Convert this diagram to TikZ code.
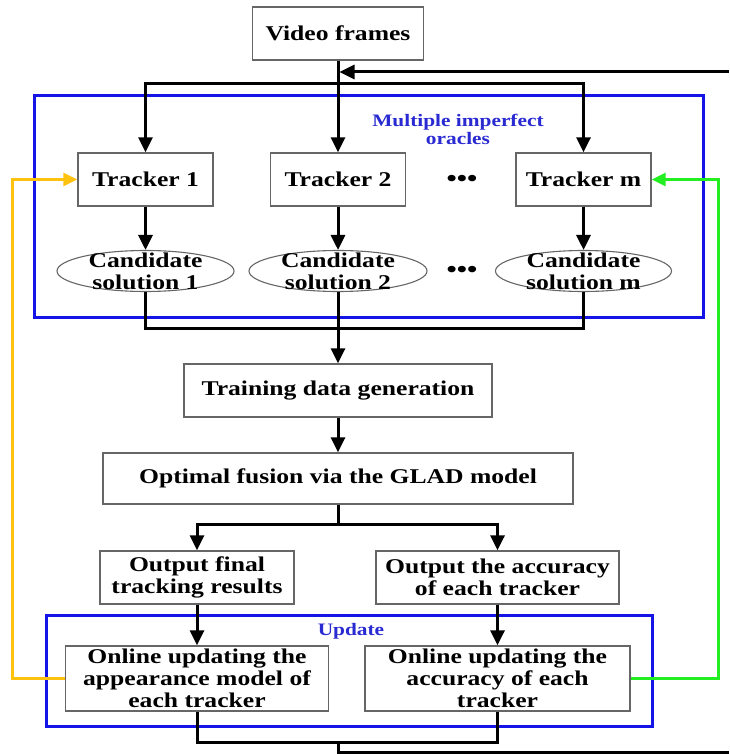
\documentclass[tikz,border=0pt]{standalone}
\usepackage{fontspec}
\setmainfont{Liberation Serif}[FakeStretch=1.22]
\usetikzlibrary{arrows.meta,shapes.geometric}

\definecolor{boxgray}{HTML}{666666}
\definecolor{grpblue}{HTML}{1414E6}
\definecolor{txtblue}{HTML}{2A2AD2}
\definecolor{fborange}{HTML}{FFC20E}
\definecolor{fbgreen}{HTML}{22EE22}

\newcommand{\mainfont}{\fontsize{21}{22}\selectfont\bfseries}
\newcommand{\grpfont}{\fontsize{17.5}{18}\selectfont\bfseries}

\begin{document}
\begin{tikzpicture}[x=1pt,y=-1pt,
  box/.style={draw=boxgray,line width=1.3pt,inner sep=0pt,align=center,font=\mainfont},
  oval/.style={ellipse,draw=boxgray,line width=1.1pt,inner sep=0pt},
  ovaltext/.style={inner sep=0pt,align=center,font=\mainfont},
  grp/.style={draw=grpblue,line width=3pt,inner sep=0pt},
  grplabel/.style={inner sep=0pt,align=center,font=\grpfont,text=txtblue},
  wire/.style={line width=3pt,draw=black},
  flow/.style={wire,-{Triangle[length=15pt,width=14pt]}},
  oflow/.style={line width=2.8pt,draw=fborange,-{Triangle[length=14pt,width=13pt]}},
  gflow/.style={line width=2.8pt,draw=fbgreen,-{Triangle[length=14pt,width=13pt]}},
  dots/.style={inner sep=0pt,font=\fontsize{24}{24}\selectfont\bfseries}]

\useasboundingbox (0,0) rectangle (729,754);

% group frames
\node[grp,minimum width=669,minimum height=221] (oracles) at (368.5,206.5) {};
\node[grp,minimum width=606,minimum height=111] (update) at (349,670.5) {};
\node[grplabel] (oraclestxt) at (458,129) {Multiple imperfect\\oracles};
\node[grplabel] (updatetxt) at (351,631) {Update};

% input
\node[box,minimum width=171,minimum height=53] (vf) at (338,33.5) {Video frames};

% trackers
\node[box,minimum width=135,minimum height=53] (t1) at (145.5,179.5) {Tracker 1};
\node[box,minimum width=135,minimum height=53] (t2) at (338,179.5) {Tracker 2};
\node[box,minimum width=135,minimum height=53] (tm) at (583.5,179.5) {Tracker m};
\node[dots] (dotsa) at (462,181) {•••};

% candidate solutions
\node[oval,minimum width=177,minimum height=41] (e1) at (145.5,271) {};
\node[oval,minimum width=178,minimum height=41] (e2) at (338,271) {};
\node[oval,minimum width=176,minimum height=41] (em) at (583.5,271) {};
\node[ovaltext] (e1t) at (e1) {Candidate\\solution 1};
\node[ovaltext] (e2t) at (e2) {Candidate\\solution 2};
\node[ovaltext] (emt) at (em) {Candidate\\solution m};
\node[dots] (dotsb) at (462,272) {•••};

% fusion chain
\node[box,minimum width=308,minimum height=53] (train) at (338,390.5) {Training data generation};
\node[box,minimum width=470,minimum height=51] (glad) at (338,478.5) {Optimal fusion via the GLAD model};

% outputs
\node[box,minimum width=194,minimum height=53] (out1) at (197,577.5) {Output final\\tracking results};
\node[box,minimum width=243,minimum height=53] (out2) at (497.5,577.5) {Output the accuracy\\of each tracker};

% updates
\node[box,minimum width=263,minimum height=65] (on1) at (197,678.5) {Online updating the\\appearance model of\\each tracker};
\node[box,minimum width=265,minimum height=65] (on2) at (497.5,678.5) {Online updating the\\accuracy of each\\tracker};

% helper points
\coordinate (fbin) at (729,72);
\coordinate (mg) at (338,328);
\coordinate (sp) at (338,524);
\coordinate (bm) at (338,742);
\coordinate (bout) at (729,752);

% frames to trackers
\draw[flow] (vf.south) -- (t2.north);
\draw[flow] (vf.south) ++(0,23) -| (t1.north);
\draw[flow] (vf.south) ++(0,23) -| (tm.north);
\draw[flow,shorten >=1.5pt] (fbin) -- (vf.south |- fbin);

% trackers to candidates
\draw[flow] (t1.south) -- (e1.north);
\draw[flow] (t2.south) -- (e2.north);
\draw[flow] (tm.south) -- (em.north);

% candidates merged into training data
\draw[wire] (e1.south) |- (mg) -| (em.south);
\draw[wire] (e2.south) -- (mg);
\draw[flow] (mg) -- (train.north);
\draw[flow] (train.south) -- (glad.north);

% fusion split
\draw[wire] (glad.south) -- (sp);
\draw[flow] (sp) -| (out1.north);
\draw[flow] (sp) -| (out2.north);

% outputs to updates
\draw[flow] (out1.south) -- (on1.north);
\draw[flow] (out2.south) -- (on2.north);

% loop back
\draw[wire] (on1.south) |- (on2.south |- bm) -- (on2.south);
\draw[wire] (bm) |- (bout);

% feedback to trackers
\draw[oflow] (on1.west) -- ++(-52,0) |- (t1.west);
\draw[gflow] (on2.east) -- ++(88,0) |- (tm.east);

\end{tikzpicture}
\end{document}
